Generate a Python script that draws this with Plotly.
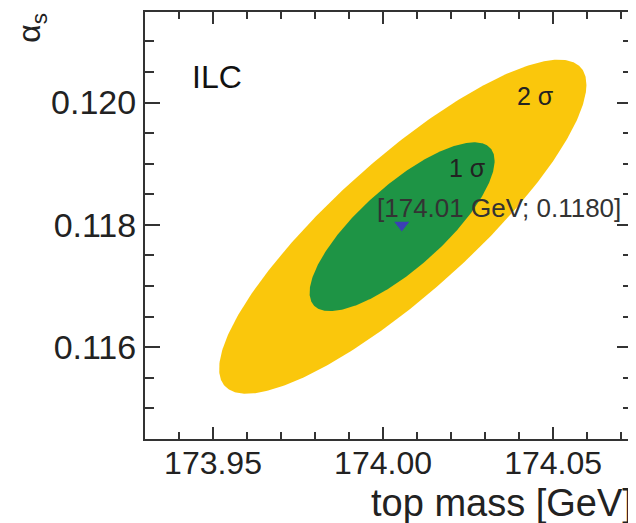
import numpy as np
import plotly.graph_objects as go

# Best-fit point (marker)
best_mass = [174.0055]
best_alpha = [0.1180]

# Contour ellipse parameters:
contour_names = ["2 sigma", "1 sigma"]
contour_cx = [174.0058, 174.0056]
contour_cy = [0.11797, 0.11797]
contour_ax = [0.0540, 0.0272]
contour_ay = [0.00273, 0.00138]
contour_rho = [0.85, 0.78]
contour_colors = ["#FAC70C", "#1E9445"]

x_ticks = [173.95, 174.00, 174.05]
x_ticklabels = ["173.95", "174.00", "174.05"]
y_ticks = [0.116, 0.118, 0.120]
y_ticklabels = ["0.116", "0.118", "0.120"]

fig = go.Figure()
t = np.linspace(0, 2 * np.pi, 400)
for name, cx, cy, ax, ay, rho, col in zip(contour_names, contour_cx, contour_cy,
                                          contour_ax, contour_ay, contour_rho, contour_colors):
    xs = cx + ax * np.cos(t)
    ys = cy + ay * (rho * np.cos(t) + np.sqrt(1 - rho ** 2) * np.sin(t))
    fig.add_trace(go.Scatter(x=xs, y=ys, mode="lines", fill="toself",
                             fillcolor=col, line=dict(width=0, color=col),
                             name=name, showlegend=False, hoverinfo="skip"))

fig.add_trace(go.Scatter(x=best_mass, y=best_alpha, mode="markers",
                         marker=dict(symbol="triangle-down", size=13, color="#3B3FB5",
                                     line=dict(width=0)),
                         showlegend=False))

font_family = "Liberation Sans, Arial, sans-serif"
axis_common = dict(showline=True, linecolor="#333333", linewidth=2, mirror="ticks",
                   ticks="inside", tickcolor="#333333", tickwidth=2,
                   showgrid=False, zeroline=False)

fig.update_xaxes(range=[173.93, 174.0732], tickvals=x_ticks, ticktext=x_ticklabels,
                 ticklen=12, ticklabelstandoff=-5,
                 tickfont=dict(family=font_family, size=32, color="#222222"),
                 minor=dict(dtick=0.01, tick0=173.95, ticks="inside", ticklen=7,
                            tickcolor="#333333", tickwidth=2),
                 **axis_common)
fig.update_yaxes(range=[0.11450, 0.12148], tickvals=y_ticks, ticktext=y_ticklabels,
                 ticklen=15,
                 tickfont=dict(family=font_family, size=34, color="#222222"),
                 minor=dict(dtick=0.0005, tick0=0.116, ticks="inside", ticklen=9,
                            tickcolor="#333333", tickwidth=2),
                 **axis_common)

ann = []
ann.append(dict(text="ILC", xref="paper", yref="paper", x=0.092, y=0.848,
                xanchor="left", yanchor="middle", showarrow=False,
                font=dict(family=font_family, size=32, color="#111111")))
ann.append(dict(text="2 σ", x=174.0447, y=0.12010, xanchor="center", yanchor="middle",
                showarrow=False, font=dict(family=font_family, size=25, color="#222222")))
ann.append(dict(text="1 σ", x=174.0247, y=0.11893, xanchor="center", yanchor="middle",
                showarrow=False, font=dict(family=font_family, size=25, color="#222222")))
ann.append(dict(text="[174.01 GeV; 0.1180]", x=173.9976, y=0.11828, xanchor="left",
                yanchor="middle", showarrow=False,
                font=dict(family=font_family, size=26, color="#333333")))
ann.append(dict(text="top mass [GeV]", xref="paper", yref="paper", x=1.006, y=-0.150,
                xanchor="right", yanchor="middle", showarrow=False,
                font=dict(family=font_family, size=38, color="#222222")))
ann.append(dict(text="α<sub>s</sub>", xref="paper", yref="paper", x=-0.232, y=0.963,
                xanchor="center", yanchor="middle", textangle=-90, showarrow=False,
                font=dict(family=font_family, size=32, color="#222222")))

# page body adds ~8px offset; figure sized/margined to place plot area at (145..632, 10..439)
fig.update_layout(width=628, height=515, margin=dict(l=137, r=4, t=2, b=84),
                  plot_bgcolor="white", paper_bgcolor="white", annotations=ann)

fig.write_html("out.html")
